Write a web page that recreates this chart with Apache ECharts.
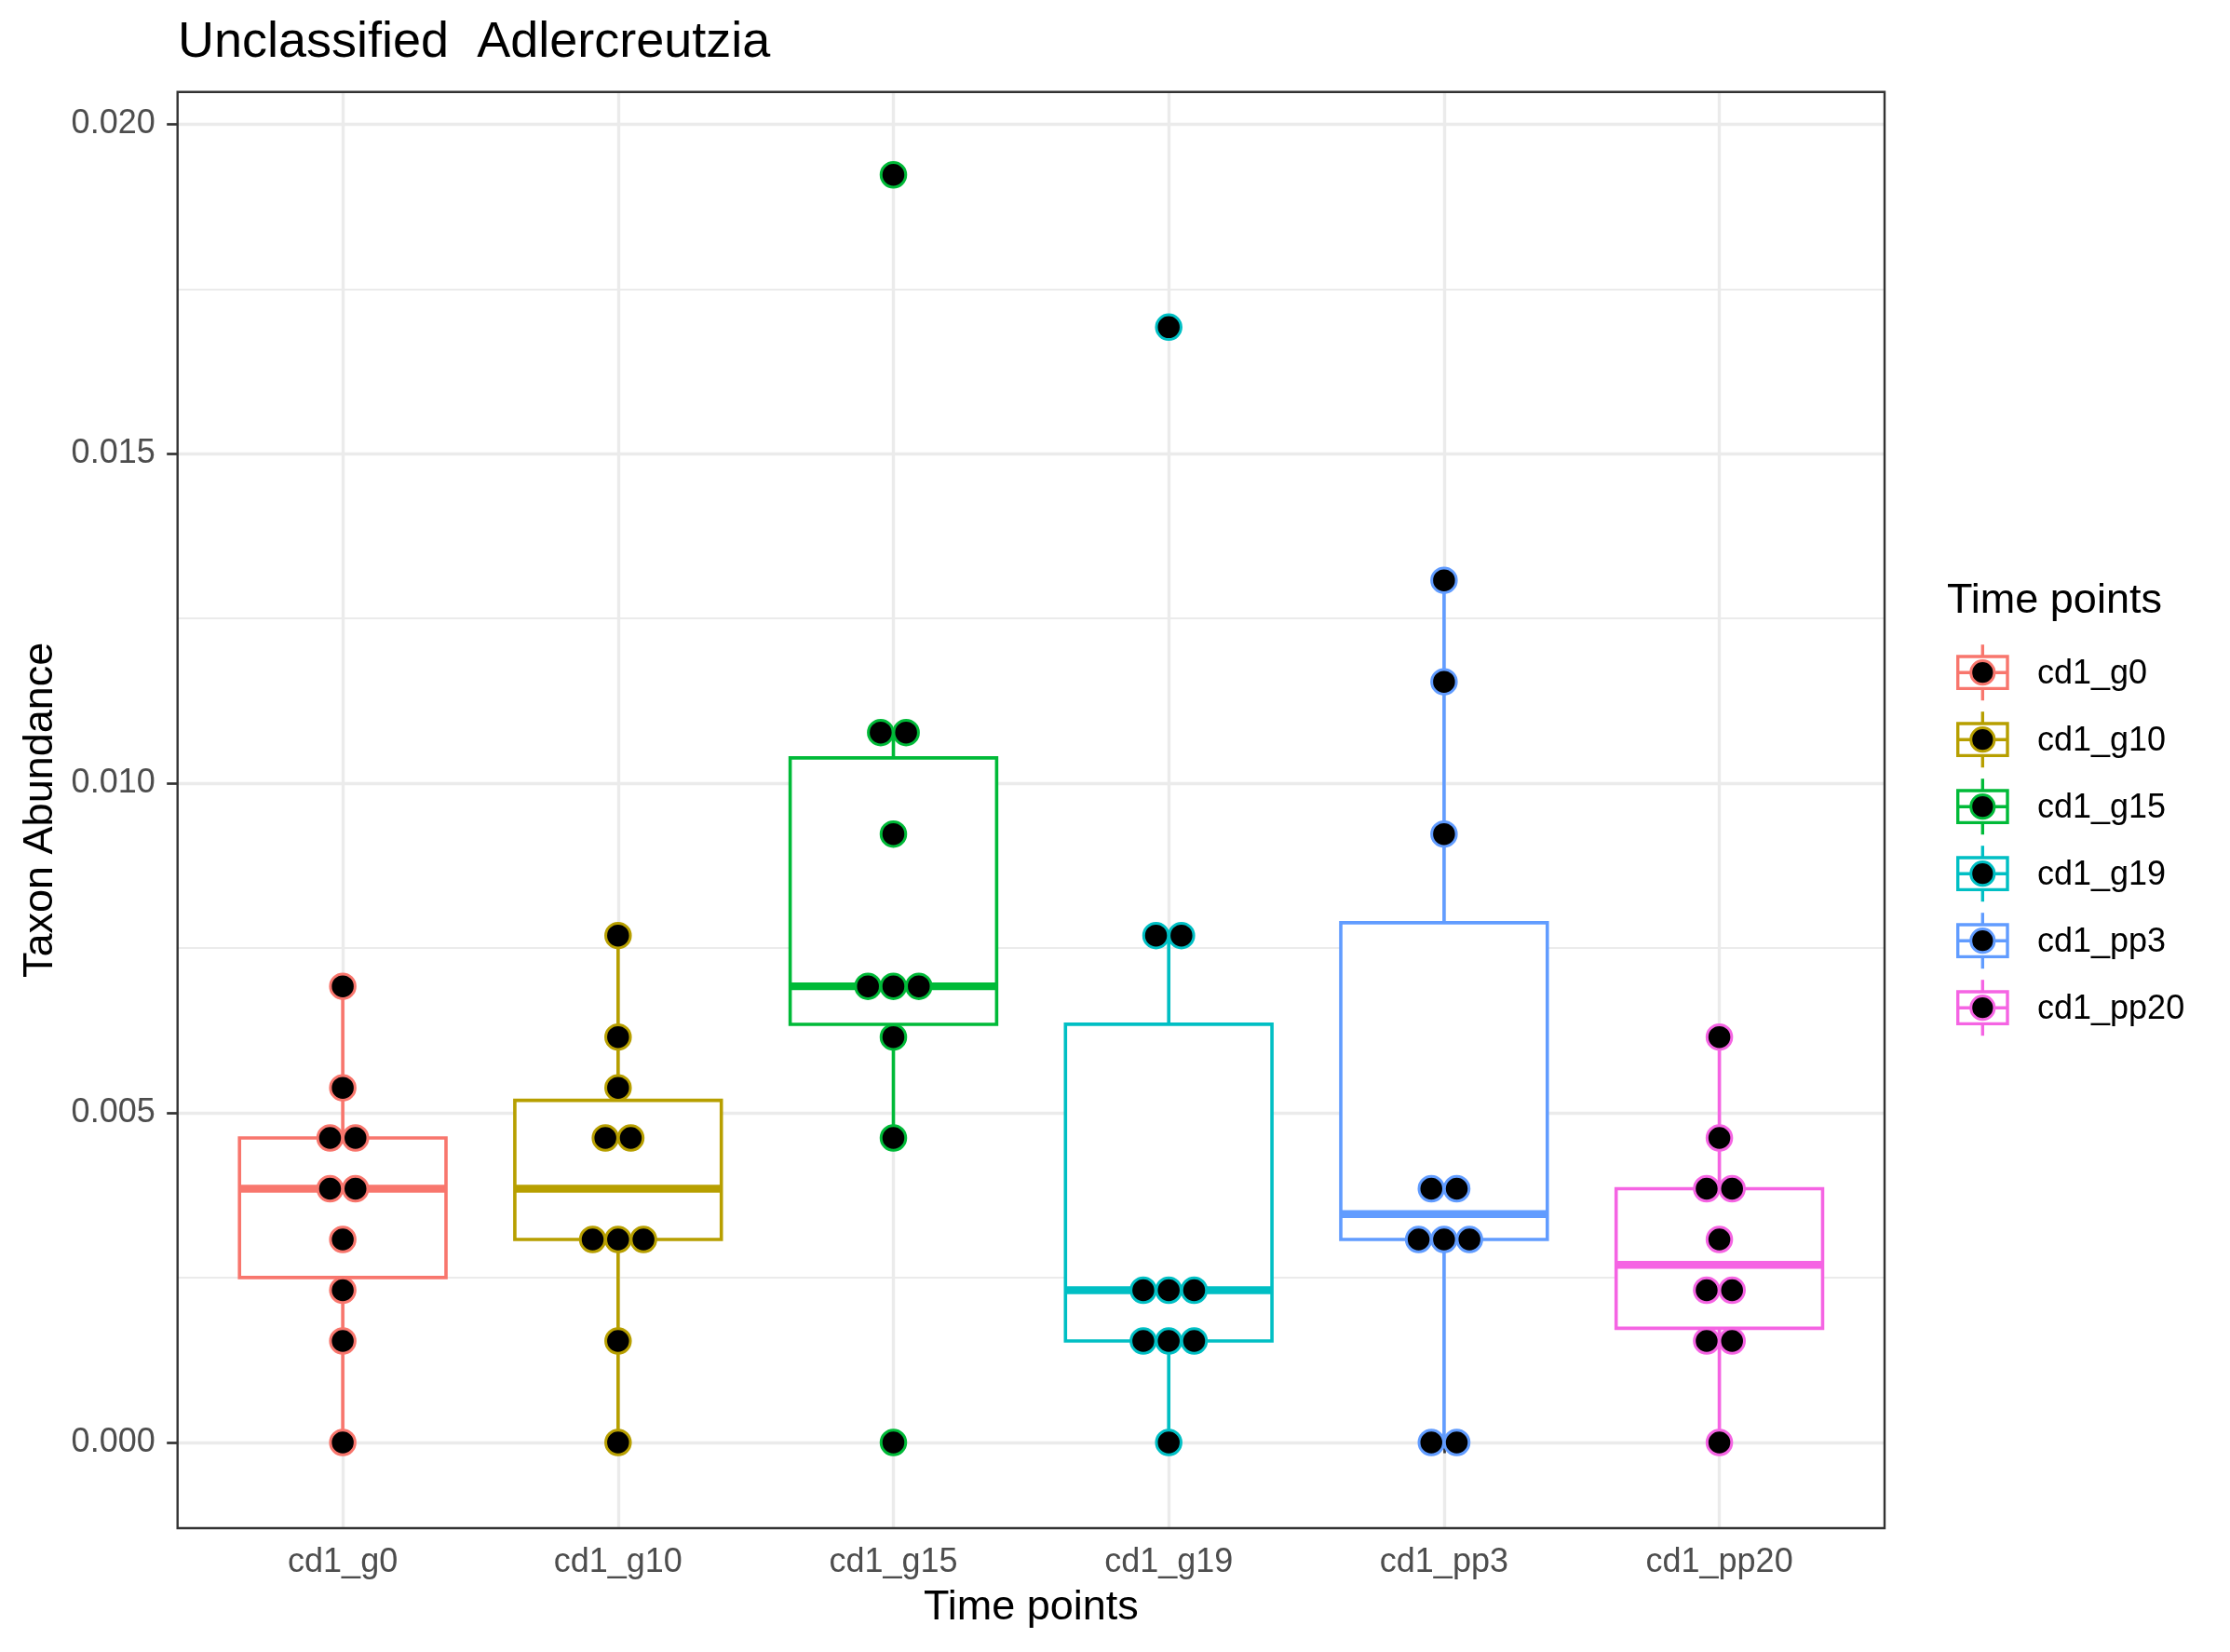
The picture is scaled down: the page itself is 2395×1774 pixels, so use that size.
<!DOCTYPE html>
<html><head><meta charset="utf-8">
<script src="https://cdn.jsdelivr.net/npm/echarts@6/dist/echarts.min.js"></script>
<style>html,body{margin:0;padding:0;background:#fff}#c{width:2395px;height:1774px}</style>
</head><body><div id="c"></div>
<script>
// ---- data ----
const categories = ['cd1_g0', 'cd1_g10', 'cd1_g15', 'cd1_g19', 'cd1_pp3', 'cd1_pp20'];
const colors = ['#F8766D', '#B79F00', '#00BA38', '#00BFC4', '#619CFF', '#F564E3'];
const g0 = [0.00692, 0.00538, 0.00462, 0.00462, 0.00385, 0.00385, 0.00308, 0.00231, 0.00154, 0];
const g10 = [0.00769, 0.00615, 0.00538, 0.00462, 0.00462, 0.00308, 0.00308, 0.00308, 0.00154, 0];
const g15 = [0.01923, 0.01077, 0.01077, 0.00923, 0.00692, 0.00692, 0.00692, 0.00615, 0.00462, 0];
const g19 = [0.01692, 0.00769, 0.00769, 0.00231, 0.00231, 0.00231, 0.00154, 0.00154, 0.00154, 0];
const pp3 = [0.01308, 0.01154, 0.00923, 0.00385, 0.00385, 0.00308, 0.00308, 0.00308, 0, 0];
const pp20 = [0.00615, 0.00462, 0.00385, 0.00385, 0.00308, 0.00231, 0.00231, 0.00154, 0.00154, 0];
const yTicks = [0, 0.005, 0.010, 0.015, 0.020];
const titleText = 'Unclassified  Adlercreutzia';
const xTitle = 'Time points';
const yTitle = 'Taxon Abundance';
const legendTitle = 'Time points';

const groups = [g0, g10, g15, g19, pp3, pp20];

// ---- box statistics (R type-7 quantiles, Tukey whiskers) ----
function quantile(sorted, p) {
  const h = (sorted.length - 1) * p;
  const lo = Math.floor(h), hi = Math.ceil(h);
  return sorted[lo] + (h - lo) * (sorted[hi] - sorted[lo]);
}
const boxData = groups.map((arr, i) => {
  const s = arr.slice().sort((a, b) => a - b);
  const q1 = quantile(s, 0.25), med = quantile(s, 0.5), q3 = quantile(s, 0.75);
  const iqr = q3 - q1;
  const inside = s.filter(v => v >= q1 - 1.5 * iqr && v <= q3 + 1.5 * iqr);
  return [i, inside[0], q1, med, q3, inside[inside.length - 1]];
});

// ---- layout ----
const FONT = '"Liberation Sans", Arial, Helvetica, sans-serif';
const PL = 190.7, PR = 2024, PT = 98.7, PB = 1641;
const Y0 = 1549, Y20 = 133.3;
const pxPerUnit = (Y0 - Y20) / 0.02;
const unit = (PR - PL) / 6.2;
const dotStep = 27.3;

function dotSeries(arr, i) {
  const counts = {};
  arr.forEach(v => { counts[v] = (counts[v] || 0) + 1; });
  const seen = {};
  const data = arr.map(v => {
    const k = seen[v] || 0; seen[v] = k + 1;
    const off = (k - (counts[v] - 1) / 2) * dotStep;
    return { value: [i, v], symbolOffset: [off, 0] };
  });
  return {
    type: 'scatter', name: categories[i], xAxisIndex: 1, yAxisIndex: 1,
    data: data, symbol: 'circle', symbolSize: 26.5, z: 5,
    itemStyle: { color: '#000', borderColor: colors[i], borderWidth: 3, opacity: 1 },
    emphasis: { disabled: true }, silent: true
  };
}

const graphics = [];
graphics.push({ type: 'text', x: 191, y: 46.6, silent: true,
  style: { text: titleText, font: '54px ' + FONT, fill: '#000', textAlign: 'left', textVerticalAlign: 'middle' } });
graphics.push({ type: 'text', x: (PL + PR) / 2, y: 1727, silent: true,
  style: { text: xTitle, font: '45px ' + FONT, fill: '#000', textAlign: 'center', textVerticalAlign: 'middle' } });
graphics.push({ type: 'text', x: 43.5, y: (PT + PB) / 2, rotation: Math.PI / 2, silent: true,
  style: { text: yTitle, font: '45px ' + FONT, fill: '#000', textAlign: 'center', textVerticalAlign: 'middle' } });
graphics.push({ type: 'text', x: 2091, y: 646, silent: true,
  style: { text: legendTitle, font: '45px ' + FONT, fill: '#000', textAlign: 'left', textVerticalAlign: 'middle' } });
categories.forEach((c, i) => {
  const cy = 722.2 + i * 72, cx = 2129.3;
  const col = colors[i];
  graphics.push({ type: 'line', silent: true, shape: { x1: cx, y1: cy - 30, x2: cx, y2: cy + 30 },
    style: { stroke: col, lineWidth: 3.4 } });
  graphics.push({ type: 'rect', silent: true, shape: { x: 2102.7, y: cy - 17.2, width: 53.3, height: 34.4 },
    style: { stroke: col, lineWidth: 3.4, fill: '#fff' } });
  graphics.push({ type: 'line', silent: true, shape: { x1: 2102.7, y1: cy, x2: 2156, y2: cy },
    style: { stroke: col, lineWidth: 3.4 } });
  graphics.push({ type: 'circle', silent: true, shape: { cx: cx, cy: cy, r: 12.6 },
    style: { fill: '#000', stroke: col, lineWidth: 3 } });
  graphics.push({ type: 'text', x: 2188, y: cy + 2, silent: true,
    style: { text: c, font: '36px ' + FONT, fill: '#000', textAlign: 'left', textVerticalAlign: 'middle' } });
});

const option = {
  animation: false,
  backgroundColor: '#fff',
  textStyle: { fontFamily: FONT },
  grid: [
    { left: PL, top: Y20, width: PR - PL, height: Y0 - Y20, show: false },
    { left: PL + 0.1 * unit, top: PT, width: 6 * unit, height: PB - PT, show: false },
    { left: PL, top: PT, width: PR - PL, height: PB - PT, show: true, borderColor: '#333333', borderWidth: 2.4, backgroundColor: 'transparent', z: 3 },
    { left: PL + 0.6 * unit, top: PT, width: 5 * unit, height: PB - PT, show: false }
  ],
  xAxis: [
    { type: 'value', gridIndex: 0, show: false, min: 0, max: 1 },
    { type: 'category', gridIndex: 1, data: categories, boundaryGap: true,
      axisLine: { show: false },
      axisTick: { show: true, alignWithLabel: true, length: 11.5, lineStyle: { color: '#333333', width: 2.7 } },
      axisLabel: { show: true, fontSize: 36, color: '#4D4D4D', fontFamily: FONT, margin: 19, lineHeight: 36 },
      splitLine: { show: false } },
    { type: 'value', gridIndex: 2, show: false, min: 0, max: 1 },
    { type: 'category', gridIndex: 3, data: categories, boundaryGap: false,
      axisLine: { show: false }, axisTick: { show: false }, axisLabel: { show: false },
      splitLine: { show: true, showMinLine: true, showMaxLine: true, lineStyle: { color: '#EBEBEB', width: 3.4 } } }
  ],
  yAxis: [
    { type: 'value', gridIndex: 0, min: yTicks[0], max: yTicks[yTicks.length - 1], interval: yTicks[1] - yTicks[0],
      axisLine: { show: false },
      axisTick: { show: true, length: 11.5, lineStyle: { color: '#333333', width: 2.7 } },
      axisLabel: { show: true, fontSize: 36, color: '#4D4D4D', fontFamily: FONT, margin: 24,
        formatter: v => v.toFixed(3) },
      splitLine: { show: true, lineStyle: { color: '#EBEBEB', width: 3.4 } },
      minorTick: { show: false, splitNumber: 2 },
      minorSplitLine: { show: true, lineStyle: { color: '#EBEBEB', width: 1.9 } } },
    { type: 'value', gridIndex: 1, show: false,
      min: -(PB - Y0) / pxPerUnit, max: 0.02 + (Y20 - PT) / pxPerUnit,
      splitLine: { show: false } },
    { type: 'value', gridIndex: 2, show: false, min: 0, max: 1 },
    { type: 'value', gridIndex: 3, show: false, min: 0, max: 1, splitLine: { show: false } }
  ],
  series: [
    {
      type: 'custom', xAxisIndex: 1, yAxisIndex: 1, z: 3, silent: true,
      data: boxData,
      encode: { x: 0, y: [1, 2, 3, 4, 5] },
      renderItem: function (params, api) {
        const idx = api.value(0);
        const col = colors[idx];
        const x = api.coord([idx, 0])[0];
        const bw = api.size([1, 0])[0] * 0.75;
        const yLo = api.coord([idx, api.value(1)])[1];
        const yQ1 = api.coord([idx, api.value(2)])[1];
        const yMed = api.coord([idx, api.value(3)])[1];
        const yQ3 = api.coord([idx, api.value(4)])[1];
        const yHi = api.coord([idx, api.value(5)])[1];
        const ls = { stroke: col, lineWidth: 3.6, fill: null };
        return {
          type: 'group',
          children: [
            { type: 'line', shape: { x1: x, y1: yHi, x2: x, y2: yQ3 }, style: ls },
            { type: 'line', shape: { x1: x, y1: yQ1, x2: x, y2: yLo }, style: ls },
            { type: 'rect', shape: { x: x - bw / 2, y: yQ3, width: bw, height: yQ1 - yQ3 },
              style: { stroke: col, lineWidth: 3.6, fill: '#fff' } },
            { type: 'line', shape: { x1: x - bw / 2, y1: yMed, x2: x + bw / 2, y2: yMed },
              style: { stroke: col, lineWidth: 8.4 } }
          ]
        };
      }
    }
  ].concat(groups.map((arr, i) => dotSeries(arr, i))),
  graphic: graphics
};

const chart = echarts.init(document.getElementById('c'), null, { renderer: 'canvas' });
chart.setOption(option);
</script>
</body></html>
